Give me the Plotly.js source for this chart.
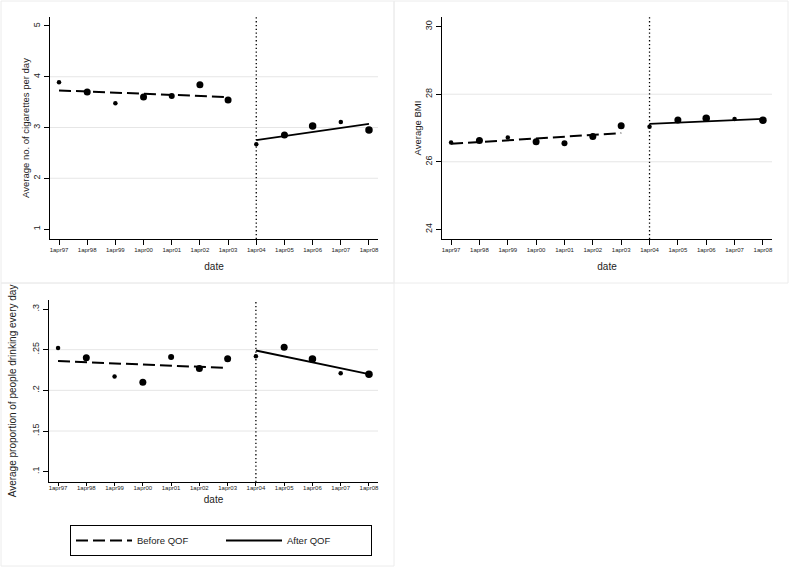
<!DOCTYPE html>
<html>
<head>
<meta charset="utf-8">
<script src="https://cdn.plot.ly/plotly-3.0.1.min.js"></script>
<style>html,body{margin:0;padding:0;background:#fff;}#chart{width:789px;height:567px;}</style>
</head>
<body>
<div id="chart"></div>
<script>
// ---- data ----
var dates = ['1apr97','1apr98','1apr99','1apr00','1apr01','1apr02','1apr03','1apr04','1apr05','1apr06','1apr07','1apr08'];
var beforeDates = ['1apr97','1apr03'];
var afterDates = ['1apr04','1apr08'];
var qofDate = '1apr04';

var cigMeans = [3.89,3.70,3.48,3.60,3.62,3.84,3.54,2.67,2.85,3.03,3.11,2.95];
var cigBeforeFit = [3.73,3.60];
var cigAfterFit = [2.75,3.07];

var bmiMeans = [26.57,26.63,26.72,26.59,26.55,26.75,27.07,27.04,27.24,27.29,27.27,27.23];
var bmiBeforeFit = [26.53,26.85];
var bmiAfterFit = [27.12,27.27];

var drinkMeans = [0.252,0.240,0.217,0.210,0.241,0.227,0.239,0.242,0.253,0.2385,0.221,0.2197];
var drinkBeforeFit = [0.236,0.2275];
var drinkAfterFit = [0.249,0.220];

var cigTicks = [1,2,3,4,5];
var cigTickText = ['1','2','3','4','5'];
var bmiTicks = [24,26,28,30];
var bmiTickText = ['24','26','28','30'];
var drinkTicks = [0.1,0.15,0.2,0.25,0.3];
var drinkTickText = ['.1','.15','.2','.25','.3'];

// ---- style ----
var markerSizes = [4.5,7,4.5,7,6,7,7,4.5,7,7.5,4.5,7.5];
var FONT = 'Liberation Sans, Arial, sans-serif';
var W = 789, H = 567;
function fx(px){return px/W;}
function fy(px){return 1-px/H;}

var panels = [
  {vals: cigMeans, bf: cigBeforeFit, af: cigAfterFit, ticks: cigTicks, tt: cigTickText,
   title: 'Average no. of cigarettes per day', range: [0.803,5.177], x: [50,378], y: [17,239],
   ytStand: 1, ytSize: 9.5, xtLen: 5, xlStand: 0, xtStand: 10},
  {vals: bmiMeans, bf: bmiBeforeFit, af: bmiAfterFit, ticks: bmiTicks, tt: bmiTickText,
   title: 'Average BMI', range: [23.713,30.287], x: [442,772], y: [17,239],
   ytStand: 1, ytSize: 9.5, xtLen: 5, xlStand: 0, xtStand: 10},
  {vals: drinkMeans, bf: drinkBeforeFit, af: drinkAfterFit, ticks: drinkTicks, tt: drinkTickText,
   title: 'Average proportion of people drinking every day', range: [0.0873,0.3111], x: [49,378], y: [300,482],
   ytStand: 12, ytSize: 10, xtLen: 3, xlStand: -3, xtStand: 5}
];

var traces = [];
var layout = {
  width: W, height: H,
  margin: {l:0, r:0, t:0, b:0},
  paper_bgcolor: '#fff', plot_bgcolor: '#fff',
  font: {family: FONT, color: '#222', size: 9},
  showlegend: true,
  legend: {
    orientation: 'h', x: fx(70), y: fy(525), xanchor: 'left', yanchor: 'top',
    bordercolor: '#000', borderwidth: 1, bgcolor: '#fff',
    font: {family: FONT, size: 9.5, color: '#222'},
    entrywidth: 79, entrywidthmode: 'pixels', itemwidth: 56,
    traceorder: 'normal'
  },
  shapes: [], annotations: []
};

panels.forEach(function(p, i){
  var n = i === 0 ? '' : String(i+1);
  var xa = 'x' + n, ya = 'y' + n;
  traces.push({
    type: 'scatter', mode: 'markers', x: dates, y: p.vals, xaxis: xa, yaxis: ya,
    marker: {color: '#000', size: markerSizes, opacity: 1, line: {width: 0}}, showlegend: false, hoverinfo: 'x+y'
  });
  traces.push({
    type: 'scatter', mode: 'lines', x: beforeDates, y: p.bf, xaxis: xa, yaxis: ya,
    line: {color: '#000', width: 2, dash: '12px,5px'}, name: 'Before QOF', showlegend: i === 0,
    legendgroup: 'before'
  });
  traces.push({
    type: 'scatter', mode: 'lines', x: afterDates, y: p.af, xaxis: xa, yaxis: ya,
    line: {color: '#000', width: 1.8}, name: 'After QOF', showlegend: i === 0,
    legendgroup: 'after'
  });
  layout['xaxis' + n] = {
    domain: [fx(p.x[0]), fx(p.x[1])], anchor: ya,
    type: 'category', categoryorder: 'array', categoryarray: dates,
    range: [-0.32, dates.length - 1 + 0.32],
    showline: true, linecolor: '#000', linewidth: 1,
    ticks: 'outside', ticklen: p.xtLen, tickcolor: '#000', tickwidth: 1,
    ticklabelstandoff: p.xlStand,
    showgrid: false, zeroline: false,
    tickfont: {family: FONT, size: 6, color: '#222'}, tickangle: 0,
    title: {text: 'date', font: {family: FONT, size: 10, color: '#222'}, standoff: p.xtStand}
  };
  layout['yaxis' + n] = {
    domain: [fy(p.y[1]), fy(p.y[0])], anchor: xa,
    range: p.range, tickvals: p.ticks, ticktext: p.tt,
    showline: true, linecolor: '#000', linewidth: 1,
    ticks: 'outside', ticklen: 5, tickcolor: '#000', tickwidth: 1,
    showgrid: false, zeroline: false, tickangle: -90,
    tickfont: {family: FONT, size: 9, color: '#222'},
    title: {text: p.title, font: {family: FONT, size: p.ytSize, color: '#222'}, standoff: p.ytStand}
  };
  // interior gridlines
  p.ticks.slice(1, -1).forEach(function(t){
    layout.shapes.push({type: 'line', xref: xa + ' domain', yref: ya, x0: 0, x1: 1, y0: t, y1: t,
      line: {color: '#e6e6e6', width: 1}, layer: 'below'});
  });
  // QOF introduction line
  layout.shapes.push({type: 'line', xref: xa, yref: ya + ' domain', x0: dates.indexOf(qofDate), x1: dates.indexOf(qofDate),
    y0: 0, y1: 1.0, line: {color: '#000', width: 1.3, dash: '1.3px,2.5px'}});
});

// panel borders
[[1,1,394,283],[394,1,788,283],[1,283,394,566]].forEach(function(b){
  layout.shapes.push({type: 'rect', xref: 'paper', yref: 'paper', x0: fx(b[0]), x1: fx(b[2]), y0: fy(b[3]), y1: fy(b[1]),
    line: {color: '#ececec', width: 1}, layer: 'below'});
});

Plotly.newPlot('chart', traces, layout, {displayModeBar: false, staticPlot: true});
</script>
</body>
</html>
